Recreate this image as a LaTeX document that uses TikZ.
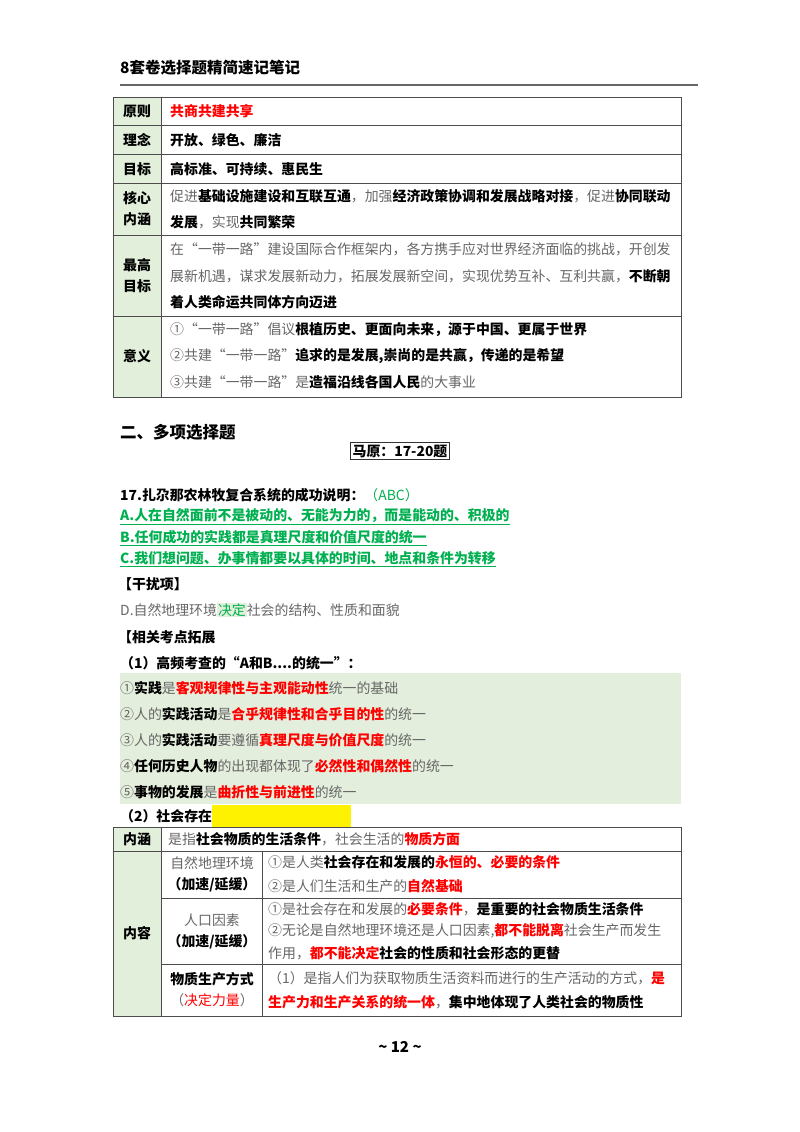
\documentclass[tikz,border=0pt]{standalone}
\usepackage{fontspec}
\setmainfont{Noto Sans CJK SC}
\definecolor{tgray}{HTML}{666666}
\definecolor{tred}{HTML}{FF0000}
\definecolor{tgreen}{HTML}{00B050}
\definecolor{lgreen}{HTML}{E2EFDA}
\definecolor{bgreen}{HTML}{E4EEDC}
\newcommand{\Bx}[1]{{\bfseries\color{black}#1}}
\newcommand{\Rx}[1]{{\bfseries\color{tred}#1}}
\setlength{\fboxsep}{1pt}
\begin{document}
\begin{tikzpicture}[x=1pt,y=-1pt,
  every node/.style={font=\fontsize{13.9}{15}\selectfont,inner sep=0pt,text=tgray},
  txt/.style={anchor=west},
  lab/.style={font=\fontsize{13.9}{15}\selectfont\bfseries,text=black,align=center},
  grid/.style={draw=black!70,line width=0.8pt}]
\useasboundingbox (0,0) rectangle (800,1132);
% header
\node[txt,font=\fontsize{15.5}{17}\selectfont\bfseries,text=black] (hd) at (120,68) {8套卷选择题精简速记笔记};
\draw[black!60,line width=1.5pt] (120,85) -- (698,85);
% table 1
\fill[lgreen] (113,97) rectangle (161,397);
\draw[grid] (113,97) rectangle (681,397);
\draw[grid] (161,97) -- (161,397);
\foreach \y in {125,154,183,235,316} \draw[grid] (113,\y) -- (681,\y);
\node[lab] (l1) at (137,111) {原则};
\node[lab] (l2) at (137,140) {理念};
\node[lab] (l3) at (137,169) {目标};
\node[lab] (l4) at (137,209) {核心\\[6pt]内涵};
\node[lab] (l5) at (137,276) {最高\\[6pt]目标};
\node[lab] (l6) at (137,356) {意义};
\node[txt] (t1) at (170,111) {\Rx{共商共建共享}};
\node[txt] (t2) at (170,140) {\Bx{开放、绿色、廉洁}};
\node[txt] (t3) at (170,169) {\Bx{高标准、可持续、惠民生}};
\node[txt] (t4a) at (170,196) {促进\Bx{基础设施建设和互联互通}，加强\Bx{经济政策协调和发展战略对接}，促进\Bx{协同联动}};
\node[txt] (t4b) at (170,222) {\Bx{发展}，实现\Bx{共同繁荣}};
\node[txt] (t5a) at (170,249) {在“一带一路”建设国际合作框架内，各方携手应对世界经济面临的挑战，开创发};
\node[txt] (t5b) at (170,276) {展新机遇，谋求发展新动力，拓展发展新空间，实现优势互补、互利共赢，\Bx{不断朝}};
\node[txt] (t5c) at (170,302) {\Bx{着人类命运共同体方向迈进}};
\node[txt] (t6a) at (170,330) {①“一带一路”倡议\Bx{根植历史、更面向未来，源于中国、更属于世界}};
\node[txt] (t6b) at (170,356) {②共建“一带一路”\Bx{追求的是发展,崇尚的是共赢，传递的是希望}};
\node[txt] (t6c) at (170,382) {③共建“一带一路”是\Bx{造福沿线各国人民}的大事业};
% section 2
\node[txt,font=\fontsize{16.5}{18}\selectfont\bfseries,text=black] (s2) at (120,432) {二、多项选择题};
\node[draw=black!80,line width=0.8pt,inner sep=2pt,font=\fontsize{13.9}{15}\selectfont\bfseries,text=black] (mz) at (400,451) {马原：17-20题};
\node[txt,text=black] (q17) at (120,495) {\bfseries 17.扎尕那农林牧复合系统的成功说明：\mdseries\color{tgreen}（ABC）};
\node[txt,text=tgreen,font=\fontsize{13.9}{15}\selectfont\bfseries] (qa) at (120,517) {\underline{A.人在自然面前不是被动的、无能为力的，而是能动的、积极的}};
\node[txt,text=tgreen,font=\fontsize{13.9}{15}\selectfont\bfseries] (qb) at (120,538) {\underline{B.任何成功的实践都是真理尺度和价值尺度的统一}};
\node[txt,text=tgreen,font=\fontsize{13.9}{15}\selectfont\bfseries] (qc) at (120,559) {\underline{C.我们想问题、办事情都要以具体的时间、地点和条件为转移}};
\node[txt] (gr) at (118,584) {\Bx{【干扰项】}};
\node[txt] (qd) at (120,610) {D.自然地理环境\colorbox{lgreen}{\color{tgreen}决定}社会的结构、性质和面貌};
\node[txt] (kz) at (118,637) {\Bx{【相关考点拓展}};
\node[txt] (k1) at (120,663) {\Bx{（1）高频考查的“A和B....的统一”：}};
\fill[bgreen] (120,673) rectangle (681,804);
\node[txt] (u1) at (120,688) {①\Bx{实践}是\Rx{客观规律性与主观能动性}统一的基础};
\node[txt] (u2) at (120,714) {②人的\Bx{实践活动}是\Rx{合乎规律性和合乎目的性}的统一};
\node[txt] (u3) at (120,740) {③人的\Bx{实践活动}要遵循\Rx{真理尺度与价值尺度}的统一};
\node[txt] (u4) at (120,766) {④\Bx{任何历史人物}的出现都体现了\Rx{必然性和偶然性}的统一};
\node[txt] (u5) at (120,792) {⑤\Bx{事物的发展}是\Rx{曲折性与前进性}的统一};
\node[txt] (k2) at (120,816) {\Bx{（2）社会存在}};
\fill[yellow] (k2.east |- 0,805) rectangle (351,827);
% table 2
\fill[lgreen] (113,827) rectangle (161,1016);
\draw[grid] (113,827) rectangle (681,1016);
\draw[grid] (161,827) -- (161,1016);
\draw[grid] (113,851) -- (681,851);
\draw[grid] (262,851) -- (262,1016);
\draw[grid] (161,898) -- (681,898);
\draw[grid] (161,964) -- (681,964);
\node[lab] (m1) at (137,839) {内涵};
\node[lab] (m2) at (137,933) {内容};
\node[txt] (n1) at (168,839) {是指\Bx{社会物质的生活条件}，社会生活的\Rx{物质方面}};
\node[align=center] (c1) at (212,874) {自然地理环境\\[6pt]\Bx{（加速/延缓）}};
\node[align=center] (c2) at (212,931) {人口因素\\[6pt]\Bx{（加速/延缓）}};
\node[align=center] (c3) at (212,990) {\Bx{物质生产方式}\\[6pt]（{\color{tred}决定力量}）};
\node[txt] (d1a) at (268,862) {①是人类\Bx{社会存在和发展的}\Rx{永恒的、必要的条件}};
\node[txt] (d1b) at (268,886) {②是人们生活和生产的\Rx{自然基础}};
\node[txt] (d2a) at (268,909) {①是社会存在和发展的\Rx{必要条件}，\Bx{是重要的社会物质生活条件}};
\node[txt] (d2b) at (268,931) {②无论是自然地理环境还是人口因素,\Rx{都不能脱离}社会生产而发生};
\node[txt] (d2c) at (268,953) {作用，\Rx{都不能决定}\Bx{社会的性质和社会形态的更替}};
\node[txt] (d3a) at (268,978) {（1）是指人们为获取物质生活资料而进行的生产活动的方式，\Rx{是}};
\node[txt] (d3b) at (268,1002) {\Rx{生产力和生产关系的统一体}，\Bx{集中地体现了人类社会的物质性}};
\node[text=black,font=\fontsize{15}{17}\selectfont\bfseries] (pg) at (400,1047) {\textasciitilde\ 12 \textasciitilde};
\end{tikzpicture}
\end{document}
